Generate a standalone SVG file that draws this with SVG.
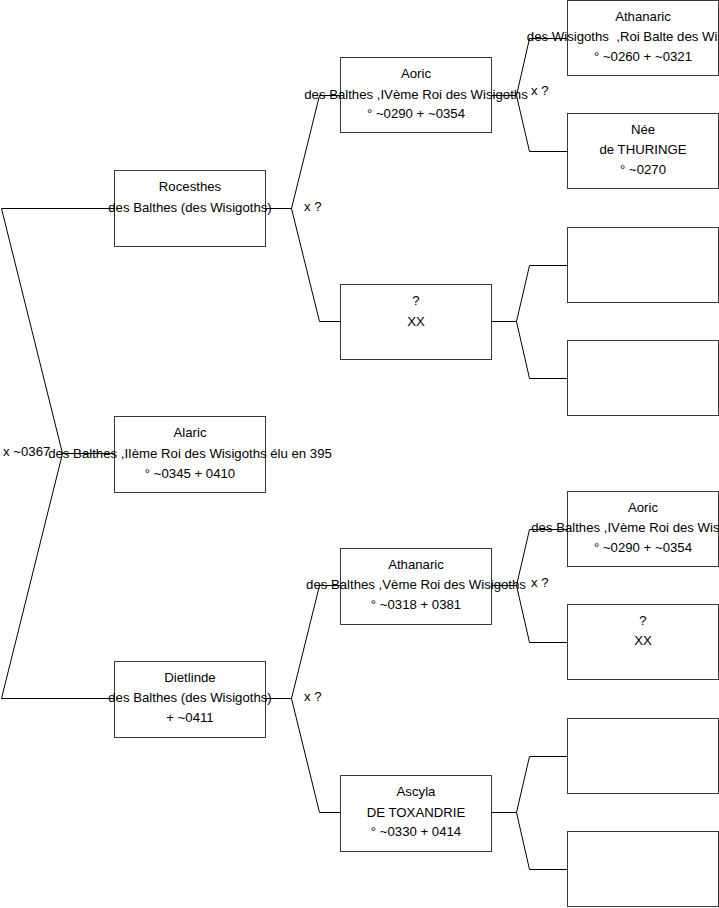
<svg xmlns="http://www.w3.org/2000/svg" width="719" height="908" viewBox="0 0 719 908">
<style>
rect.box{fill:#fff;stroke:#3a3a3a;stroke-width:1}
text{font-family:"Liberation Sans",Arial,sans-serif;font-size:13.2px;fill:#000}
text.c{text-anchor:middle}
.con path{fill:none;stroke:#000;stroke-width:1}
</style>
<rect width="719" height="908" fill="#fff"/>
<g id="nodes">
<g id="rocesthes"><rect class="box" x="114.5" y="170.5" width="151" height="76"/><text class="c" x="190" y="191">Rocesthes</text><text class="c" x="190" y="212">des Balthes (des Wisigoths)</text></g>
<g id="alaric"><rect class="box" x="114.5" y="416.5" width="151" height="76"/><text class="c" x="190" y="437">Alaric</text><text class="c" x="190" y="458">des Balthes ,IIème Roi des Wisigoths élu en 395</text><text class="c" x="190" y="478">° ~0345 + 0410</text></g>
<g id="dietlinde"><rect class="box" x="114.5" y="661.5" width="151" height="76"/><text class="c" x="190" y="682">Dietlinde</text><text class="c" x="190" y="702">des Balthes (des Wisigoths)</text><text class="c" x="190" y="722">+ ~0411</text></g>
<g id="aoric"><rect class="box" x="340.5" y="57.5" width="151" height="75"/><text class="c" x="416" y="78">Aoric</text><text class="c" x="416" y="99">des Balthes ,IVème Roi des Wisigoths</text><text class="c" x="416" y="118">° ~0290 + ~0354</text></g>
<g id="unknown1"><rect class="box" x="340.5" y="284.5" width="151" height="75"/><text class="c" x="416" y="305">?</text><text class="c" x="416" y="326">XX</text></g>
<g id="athanaric2"><rect class="box" x="340.5" y="548.5" width="151" height="76"/><text class="c" x="416" y="569">Athanaric</text><text class="c" x="416" y="589">des Balthes ,Vème Roi des Wisigoths</text><text class="c" x="416" y="609">° ~0318 + 0381</text></g>
<g id="ascyla"><rect class="box" x="340.5" y="775.5" width="151" height="76"/><text class="c" x="416" y="796">Ascyla</text><text class="c" x="416" y="817">DE TOXANDRIE</text><text class="c" x="416" y="836">° ~0330 + 0414</text></g>
<g id="athanaric3"><rect class="box" x="567.5" y="0.5" width="151" height="75"/><text class="c" x="643" y="21">Athanaric</text><text class="c" x="643" y="41" xml:space="preserve">des Wisigoths  ,Roi Balte des Wisigoths</text><text class="c" x="643" y="61">° ~0260 + ~0321</text></g>
<g id="nee"><rect class="box" x="567.5" y="113.5" width="151" height="75"/><text class="c" x="643" y="134">Née</text><text class="c" x="643" y="154">de THURINGE</text><text class="c" x="643" y="174">° ~0270</text></g>
<g id="empty1"><rect class="box" x="567.5" y="227.5" width="151" height="75"/></g>
<g id="empty2"><rect class="box" x="567.5" y="340.5" width="151" height="75"/></g>
<g id="aoric3"><rect class="box" x="567.5" y="491.5" width="151" height="75"/><text class="c" x="643" y="512">Aoric</text><text class="c" x="643" y="532">des Balthes ,IVème Roi des Wisigoths</text><text class="c" x="643" y="552">° ~0290 + ~0354</text></g>
<g id="unknown2"><rect class="box" x="567.5" y="604.5" width="151" height="75"/><text class="c" x="643" y="625">?</text><text class="c" x="643" y="645">XX</text></g>
<g id="empty3"><rect class="box" x="567.5" y="718.5" width="151" height="75"/></g>
<g id="empty4"><rect class="box" x="567.5" y="831.5" width="151" height="75"/></g>
</g>
<g id="connectors" class="con">
<path d="M114 453.5H62.5L1.5 208.5H114.5M62.5 453.5L1.5 698.5H114.5"/>
<path d="M265 208.5H291.5L319.5 95.5H340.5M291.5 208.5L319.5 321.5H340.5"/>
<path d="M265 698.5H291.5L319.5 585.5H340.5M291.5 698.5L319.5 812.5H340.5"/>
<path d="M491 95.5H516.5L529.5 38.5H567.5M516.5 95.5L529.5 151.5H567.5"/>
<path d="M491 321.5H516.5L529.5 265.5H567.5M516.5 321.5L529.5 378.5H567.5"/>
<path d="M491 585.5H516.5L529.5 529.5H567.5M516.5 585.5L529.5 642.5H567.5"/>
<path d="M491 812.5H516.5L529.5 756.5H567.5M516.5 812.5L529.5 869.5H567.5"/>
</g>
<g id="labels">
<text x="3" y="456">x ~0367</text>
<text x="304" y="211">x ?</text>
<text x="304" y="701">x ?</text>
<text x="531" y="95">x ?</text>
<text x="531" y="587">x ?</text>
</g>
</svg>
